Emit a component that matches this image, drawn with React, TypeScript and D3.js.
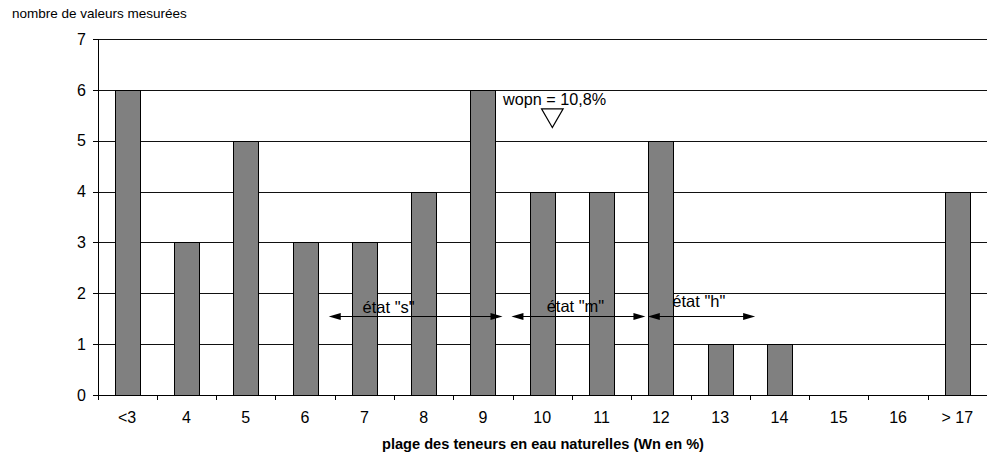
import React from "react";
import * as d3 from "d3";

const categories = ["<3", "4", "5", "6", "7", "8", "9", "10", "11", "12", "13", "14", "15", "16", "> 17"];
const counts = [6, 3, 5, 3, 3, 4, 6, 4, 4, 5, 1, 1, 0, 0, 4];
const yTicks = [0, 1, 2, 3, 4, 5, 6, 7];

// annotation ranges in band units (0..15) and count units
const stateLabels = ['état "s"', 'état "m"', 'état "h"'];
const stateFrom = [3.9, 6.98, 9.28];
const stateTo = [6.83, 9.24, 11.09];
const stateLabelX = [4.91, 8.06, 10.14];
const stateLabelY = [1.62, 1.63, 1.73];
const stateArrowY = 1.553;

const wopnLabel = "wopn = 10,8%";
const wopnLabelX = 6.84;
const wopnLabelY = 5.7;
const wopnMarkX = 7.67;
const wopnMarkY = 5.26;

const W = 987;
const H = 458;
const FONT = "'Liberation Sans', Arial, Helvetica, sans-serif";

export default function App() {
  const left = 97.5;
  const right = 987;
  const top = 39;
  const bottom = 395;

  const x = d3.scaleBand<string>().domain(categories).range([left, right]).padding(0);
  const xu = d3.scaleLinear().domain([0, categories.length]).range([left, right]);
  const y = d3.scaleLinear().domain([0, 7]).range([bottom, top]);
  const barW = x.bandwidth() * 0.42;

  const ah = 12; // arrow head length
  const aw = 3.5; // arrow head half-width

  return (
    <svg width={W} height={H} style={{ position: "absolute", left: 0, top: 0, display: "block", background: "#fff" }} fontFamily={FONT}>
      <rect x={0} y={0} width={W} height={H} fill="#fff" />
      <text x={12} y={18} fontSize={13.5} fill="#000">nombre de valeurs mesurées</text>

      {/* gridlines */}
      {yTicks.filter((t) => t > 0).map((t) => (
        <line key={t} x1={left} x2={right} y1={Math.round(y(t)) + 0.5} y2={Math.round(y(t)) + 0.5} stroke="#111" strokeWidth={1} />
      ))}

      {/* bars */}
      {counts.map((c, i) => {
        const cx = (x(categories[i]) as number) + x.bandwidth() / 2;
        if (c <= 0) return null;
        return (
          <rect key={i} x={Math.round(cx - barW / 2) + 0.5} y={Math.round(y(c)) + 0.5} width={Math.round(barW)} height={Math.round(y(0)) - Math.round(y(c))} fill="#808080" stroke="#000" strokeWidth={1} />
        );
      })}

      {/* y axis */}
      <line x1={Math.round(left) + 0.5} x2={Math.round(left) + 0.5} y1={y(7)} y2={y(0)} stroke="#000" />
      {yTicks.map((t) => (
        <g key={t}>
          <line x1={Math.round(left) - 5} x2={Math.round(left)} y1={Math.round(y(t)) + 0.5} y2={Math.round(y(t)) + 0.5} stroke="#000" />
          <text x={86} y={y(t)} dy="0.36em" textAnchor="end" fontSize={16} fill="#000">{t}</text>
        </g>
      ))}

      {/* x axis */}
      <line x1={left} x2={right} y1={Math.round(y(0)) + 0.5} y2={Math.round(y(0)) + 0.5} stroke="#000" />
      {d3.range(categories.length + 1).map((i) => (
        <line key={i} x1={Math.round(xu(i)) + 0.5} x2={Math.round(xu(i)) + 0.5} y1={bottom} y2={bottom + 5} stroke="#000" />
      ))}
      {categories.map((c) => (
        <text key={c} x={(x(c) as number) + x.bandwidth() / 2} y={423} textAnchor="middle" fontSize={16} fill="#000">{c}</text>
      ))}
      <text x={(376 + 710) / 2} y={449} textAnchor="middle" fontSize={14.6} fontWeight="bold" fill="#000">plage des teneurs en eau naturelles (Wn en %)</text>

      {/* state arrows */}
      {stateLabels.map((lab, i) => {
        const x1 = xu(stateFrom[i]);
        const x2 = xu(stateTo[i]);
        const ay = Math.round(y(stateArrowY)) + 0.5;
        return (
          <g key={lab}>
            <line x1={x1 + ah - 1} x2={x2 - ah + 1} y1={ay} y2={ay} stroke="#000" strokeWidth={1.2} />
            <path d={`M${x1},${ay} L${x1 + ah},${ay - aw} L${x1 + ah},${ay + aw} Z`} fill="#000" />
            <path d={`M${x2},${ay} L${x2 - ah},${ay - aw} L${x2 - ah},${ay + aw} Z`} fill="#000" />
            <text x={xu(stateLabelX[i])} y={y(stateLabelY[i])} textAnchor="middle" fontSize={16.5} fill="#000">{lab}</text>
          </g>
        );
      })}

      {/* wopn */}
      <text x={xu(wopnLabelX)} y={y(wopnLabelY)} fontSize={16.2} fill="#000">{wopnLabel}</text>
      {(() => {
        const tx = xu(wopnMarkX);
        const ty = y(wopnMarkY);
        return <path d={`M${tx},${ty} L${tx - 10.8},${ty - 18.7} L${tx + 10.8},${ty - 18.7} Z`} fill="#fff" stroke="#000" strokeWidth={1.2} />;
      })()}
    </svg>
  );
}
